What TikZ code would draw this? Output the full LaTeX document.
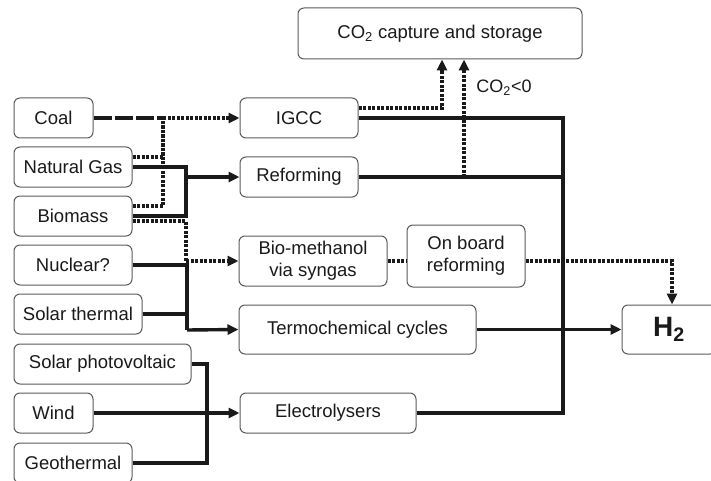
\documentclass[tikz,border=0pt]{standalone}
\usepackage{fontspec}
\setmainfont{Liberation Sans}
\usepackage{tikz}
\usetikzlibrary{arrows.meta,positioning,calc}
\definecolor{boxgray}{HTML}{5A5A5A}
\definecolor{inkblack}{HTML}{1A1A1A}

\begin{document}
\begin{tikzpicture}[
      x=1pt, y=-1pt,
      box/.style={rectangle, draw=boxgray, line width=1pt, fill=white,
                  rounded corners=6pt, minimum height=40pt, inner sep=0pt,
                  align=center, text=inkblack,
                  font=\fontsize{18.5}{22}\selectfont},
      conn/.style={line width=3.4pt, color=inkblack},
      arrow/.style={conn, -{Triangle[length=11pt,width=10pt]}},
      dotline/.style={conn, line width=3.2pt, dash pattern=on 3pt off 1.5pt},
      dotarrow/.style={dotline, -{Triangle[length=11pt,width=10pt]}},
      dashline/.style={conn, dash pattern=on 18pt off 3pt}
    ]
      \useasboundingbox (0,0) rectangle (711,481);
      %% primary sources
      \node[box, minimum width=79pt]  (coal)    at (53.5,118) {Coal};
      \node[box, minimum width=118pt] (gas)     at (73,167)   {Natural Gas};
      \node[box, minimum width=118pt] (biomass) at (73,216)   {Biomass};
      \node[box, minimum width=118pt] (nuclear) at (73,265)   {Nuclear?};
      \node[box, minimum width=128pt] (solarth) at (78,314)   {Solar thermal};
      \node[box, minimum width=177pt] (pv)      at (102.5,364){Solar photovoltaic};
      \node[box, minimum width=79pt]  (wind)    at (53.5,413) {Wind};
      \node[box, minimum width=118pt] (geo)     at (73,463)   {Geothermal};
      %% conversion routes
      \node[box, minimum width=118pt] (igcc)    at (299,118)  {IGCC};
      \node[box, minimum width=118pt] (reform)  at (299,177)  {Reforming};
      \node[box, minimum width=148pt, minimum height=50pt] (biometh) at (313,261)
          {Bio-methanol\\via syngas};
      \node[box, minimum width=118pt, minimum height=62pt] (onboard) at (466,256)
          {On board\\reforming};
      \node[box, minimum width=237pt, minimum height=49pt] (termo) at (357.5,329.5)
          {Termochemical cycles};
      \node[box, minimum width=176pt] (elec)    at (328,413)  {Electrolysers};
      \node[box, minimum width=284pt, minimum height=51pt] (ccs) at (440,33.5)
          {CO\textsubscript{2} capture and storage};
      \node[box, minimum width=94pt, minimum height=49pt,
            font=\fontsize{28}{30}\selectfont\bfseries] (h2) at (669,329.5)
          {H\textsubscript{2}};
      \node[text=inkblack, font=\fontsize{18}{20}\selectfont] (neg) at (504,88)
          {CO\textsubscript{2}<0};
      %% junctions
      \coordinate (jcoal)  at (163,118);
      \coordinate (jref)   at (186,177);
      \coordinate (jbio)   at (186,261);
      \coordinate (jtherm) at (187,330);
      \coordinate (jelec)  at (207,413);
      \coordinate (jneg)   at (464,177);
      \coordinate (bus)    at (563,413);
      %% fossil and biomass to IGCC
      \draw[dashline] (coal.east) -- (jcoal);
      \draw[dotline] ([yshift=10pt]gas.east) -| (jcoal);
      \draw[dotline] ([yshift=10pt]biomass.east) -| (jcoal);
      \draw[dotarrow] (jcoal) -- (igcc.west);
      %% reforming
      \draw[conn] (gas.east) -| (jref) |- (biomass.east);
      \draw[arrow] (jref) -- (reform.west);
      %% bio-methanol route
      \draw[dotline] ([yshift=-5pt]biomass.east) -| (jbio);
      \draw[dotarrow] (jbio) -- (biometh.west);
      \draw[dotline] (biometh.east) -- (biometh.east -| onboard.west);
      \draw[dotarrow] (onboard.east |- biometh.east) -| ([xshift=3pt]h2.north);
      %% thermal routes
      \draw[conn] (nuclear.east) -| (jtherm);
      \draw[conn] (solarth.east) -| (jtherm);
      \draw[arrow] (jtherm) -- (termo.west);
      %% electricity routes
      \draw[conn] (pv.east) -| (jelec) |- (geo.east);
      \draw[arrow] (wind.east) -- (elec.west);
      %% CO2 capture
      \draw[dotarrow] ([yshift=10pt]igcc.east) -| ([xshift=2pt]ccs.south);
      \draw[dotarrow] (jneg) -- (jneg |- ccs.south);
      %% hydrogen collector
      \draw[conn] (igcc.east) -| (bus) -- (elec.east);
      \draw[conn] (reform.east) -- (reform.east -| bus);
      \draw[arrow] (termo.east) -- (h2.west);
    \end{tikzpicture}
\end{document}
